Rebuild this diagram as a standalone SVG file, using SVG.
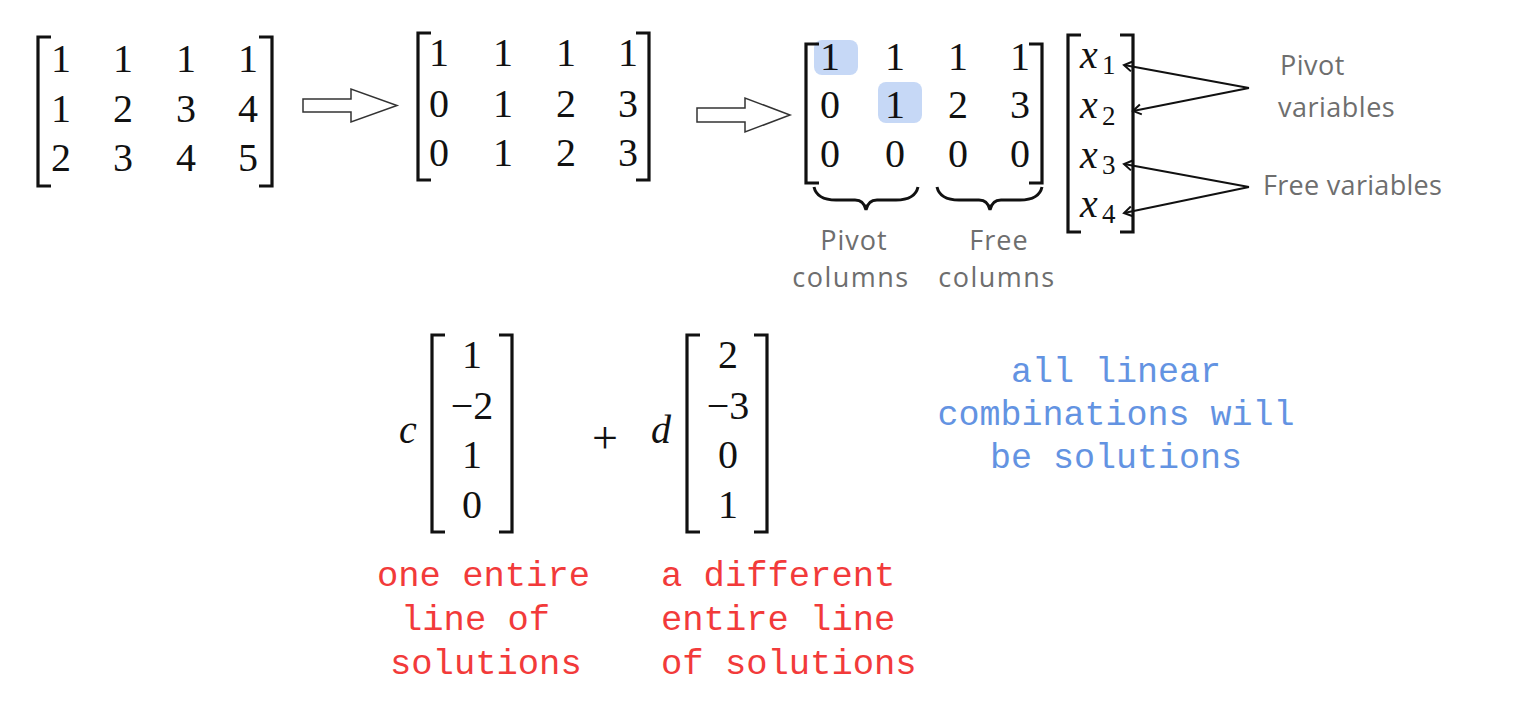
<svg xmlns="http://www.w3.org/2000/svg" width="1523" height="709" viewBox="0 0 1523 709">
<style>
.num{font-family:"Liberation Serif","Times New Roman",serif;font-size:40px;fill:#111;text-anchor:middle}
.var{font-family:"Liberation Serif","Times New Roman",serif;font-size:40px;font-style:italic;fill:#111}
.sub{font-family:"Liberation Serif","Times New Roman",serif;font-size:27px;fill:#111}
.br{fill:none;stroke:#111;stroke-width:3.2}
.brace{fill:none;stroke:#111;stroke-width:3}
.harrow{fill:#fff;stroke:#333;stroke-width:1.5}
.hl{fill:#c6d8f6}
.gray{font-family:"Open Sans","Noto Sans",sans-serif;font-size:27px;fill:#6e6e6e}
.red{font-family:"Liberation Mono","Courier New",monospace;font-size:35.5px;fill:#f23a3a}
.blue{font-family:"Liberation Mono","Courier New",monospace;font-size:35px;fill:#6393e2;text-anchor:middle}
.conn{stroke:#111;stroke-width:2;fill:none}
</style>
<defs>
<marker id="open" markerUnits="userSpaceOnUse" viewBox="-12 -8 14 16" refX="0" refY="0" markerWidth="14" markerHeight="16" orient="auto">
<path d="M-8,-5 L0,0 L-8,5" fill="none" stroke="#111" stroke-width="2"/>
</marker>
</defs>

<g id="matrix-A">
<path class="br" d="M51,37 H38 V186 H51"/>
<path class="br" d="M259,37 H272 V186 H259"/>
<text class="num" x="61" y="72">1</text><text class="num" x="123" y="72">1</text><text class="num" x="186" y="72">1</text><text class="num" x="248" y="72">1</text>
<text class="num" x="61" y="122">1</text><text class="num" x="123" y="122">2</text><text class="num" x="186" y="122">3</text><text class="num" x="248" y="122">4</text>
<text class="num" x="61" y="171">2</text><text class="num" x="123" y="171">3</text><text class="num" x="186" y="171">4</text><text class="num" x="248" y="171">5</text>
</g>

<g id="arrow-1">
<polygon class="harrow" points="303,99 351,99 351,89 397,105.5 351,122 351,112 303,112"/>
</g>

<g id="matrix-B">
<path class="br" d="M431,33 H418 V180 H431"/>
<path class="br" d="M636,33 H649 V180 H636"/>
<text class="num" x="439" y="66">1</text><text class="num" x="503" y="66">1</text><text class="num" x="566" y="66">1</text><text class="num" x="628" y="66">1</text>
<text class="num" x="439" y="117">0</text><text class="num" x="503" y="117">1</text><text class="num" x="566" y="117">2</text><text class="num" x="628" y="117">3</text>
<text class="num" x="439" y="166">0</text><text class="num" x="503" y="166">1</text><text class="num" x="566" y="166">2</text><text class="num" x="628" y="166">3</text>
</g>

<g id="arrow-2">
<polygon class="harrow" points="697,108 745,108 745,98 790,115 745,132 745,122 697,122"/>
</g>

<g id="matrix-R">
<rect class="hl" x="814" y="40" width="44" height="35" rx="8"/>
<rect class="hl" x="878" y="82" width="44" height="41" rx="8"/>
<path class="br" d="M819,44 H806 V183 H819"/>
<path class="br" d="M1029,44 H1042 V183 H1029"/>
<text class="num" x="830" y="70">1</text><text class="num" x="895" y="70">1</text><text class="num" x="958" y="70">1</text><text class="num" x="1020" y="70">1</text>
<text class="num" x="830" y="118">0</text><text class="num" x="895" y="118">1</text><text class="num" x="958" y="118">2</text><text class="num" x="1020" y="118">3</text>
<text class="num" x="830" y="167">0</text><text class="num" x="895" y="167">0</text><text class="num" x="958" y="167">0</text><text class="num" x="1020" y="167">0</text>
</g>

<g id="brace-pivot">
<path class="brace" d="M814,187 Q817,200 836,200 L855,200 Q864,200 866,210 Q868,200 877,200 L896,200 Q915,200 918,187"/>
<text class="gray" x="854" y="250" text-anchor="middle" letter-spacing="1">Pivot</text>
<text class="gray" x="851" y="287" text-anchor="middle" letter-spacing="1.5">columns</text>
</g>

<g id="brace-free">
<path class="brace" d="M937,187 Q940,200 959,200 L979,200 Q988,200 990,210 Q992,200 1001,200 L1020,200 Q1039,200 1042,187"/>
<text class="gray" x="999" y="250" text-anchor="middle" letter-spacing="1">Free</text>
<text class="gray" x="997" y="287" text-anchor="middle" letter-spacing="1.5">columns</text>
</g>

<g id="vector-x">
<path class="br" d="M1081,35 H1068 V232 H1081"/>
<path class="br" d="M1120,35 H1133 V232 H1120"/>
<text class="var" x="1080" y="68">x</text><text class="sub" x="1102" y="74">1</text>
<text class="var" x="1080" y="118">x</text><text class="sub" x="1102" y="125">2</text>
<text class="var" x="1080" y="168">x</text><text class="sub" x="1102" y="174">3</text>
<text class="var" x="1080" y="217">x</text><text class="sub" x="1102" y="223">4</text>
</g>

<g id="label-pivot-vars">
<text class="gray" x="1280" y="75" letter-spacing="0.5">Pivot</text>
<text class="gray" x="1278" y="117" letter-spacing="0.5">variables</text>
</g>

<g id="label-free-vars">
<text class="gray" x="1263" y="195" letter-spacing="0.3">Free variables</text>
</g>

<g id="connectors">
<line class="conn" x1="1249" y1="88" x2="1124" y2="65" marker-end="url(#open)"/>
<line class="conn" x1="1249" y1="88" x2="1133" y2="111" marker-end="url(#open)"/>
<line class="conn" x1="1249" y1="187" x2="1124" y2="164" marker-end="url(#open)"/>
<line class="conn" x1="1249" y1="187" x2="1124" y2="213" marker-end="url(#open)"/>
</g>

<g id="vector-c">
<text class="var" x="399" y="443">c</text>
<path class="br" d="M445,335 H432 V532 H445"/>
<path class="br" d="M499,335 H512 V532 H499"/>
<text class="num" x="472" y="368">1</text>
<text class="num" x="472" y="419">−2</text>
<text class="num" x="472" y="468">1</text>
<text class="num" x="472" y="518">0</text>
</g>

<g id="plus">
<text class="num" x="605" y="453" style="font-size:46px">+</text>
</g>

<g id="vector-d">
<text class="var" x="651" y="443">d</text>
<path class="br" d="M700,335 H687 V532 H700"/>
<path class="br" d="M754,335 H767 V532 H754"/>
<text class="num" x="728" y="368">2</text>
<text class="num" x="728" y="419">−3</text>
<text class="num" x="728" y="468">0</text>
<text class="num" x="728" y="518">1</text>
</g>

<g id="note-c">
<text class="red" x="377" y="586">one entire</text>
<text class="red" x="401" y="630">line of</text>
<text class="red" x="390" y="674">solutions</text>
</g>

<g id="note-d">
<text class="red" x="661" y="586">a different</text>
<text class="red" x="661" y="630">entire line</text>
<text class="red" x="661" y="674">of solutions</text>
</g>

<g id="note-all">
<text class="blue" x="1116" y="382">all linear</text>
<text class="blue" x="1116" y="425">combinations will</text>
<text class="blue" x="1116" y="468">be solutions</text>
</g>
</svg>
